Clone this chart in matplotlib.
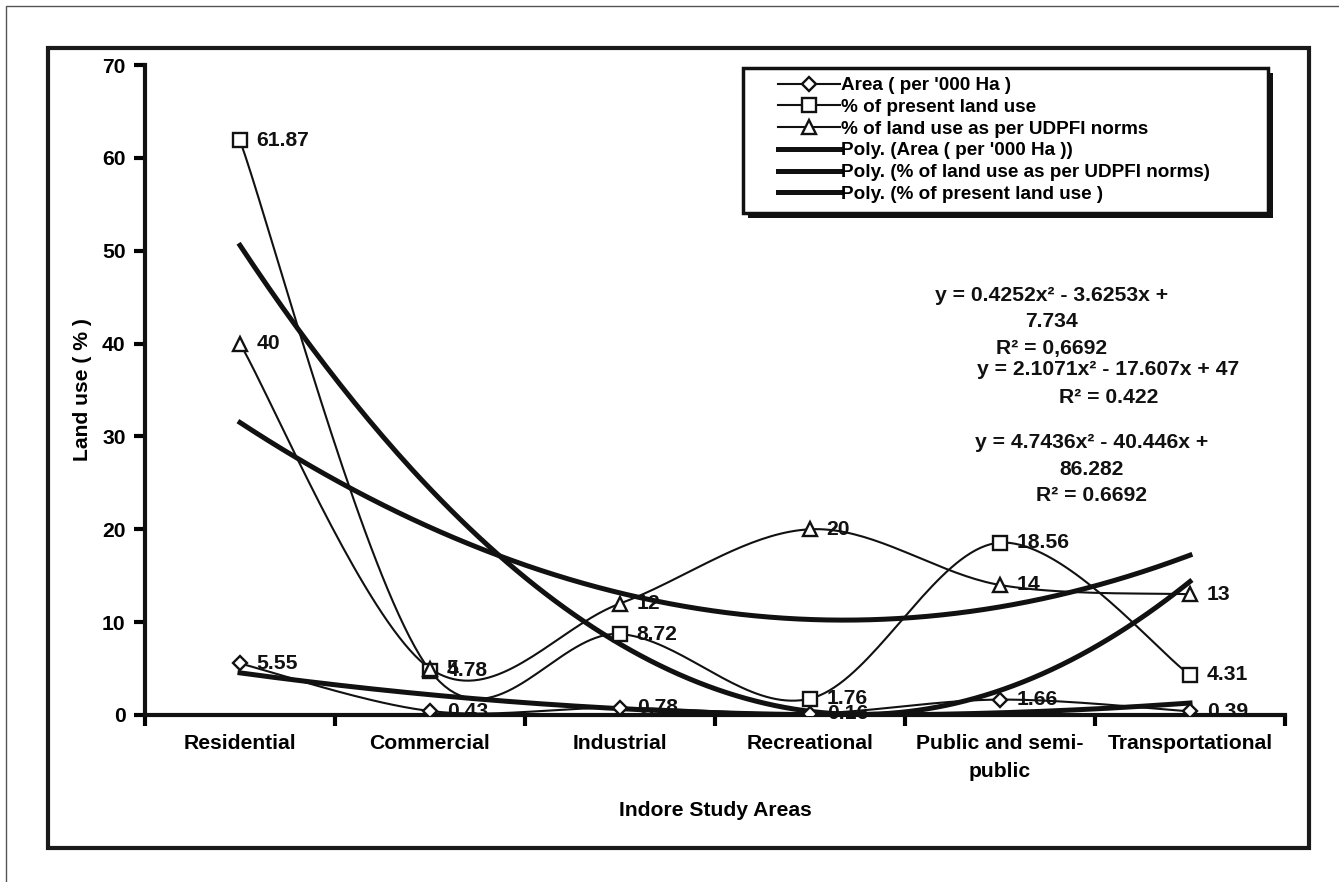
import numpy as np
import matplotlib
matplotlib.use("Agg")
import matplotlib.pyplot as plt
from matplotlib.patches import Rectangle

plt.rcParams['font.family'] = ['Liberation Sans', 'DejaVu Sans']
plt.rcParams['font.weight'] = 'bold'

# data
categories = ["Residential", "Commercial", "Industrial", "Recreational",
              "Public and semi-\npublic", "Transportational"]
area = [5.55, 0.43, 0.78, 0.16, 1.66, 0.39]
present = [61.87, 4.78, 8.72, 1.76, 18.56, 4.31]
udpfi = [40, 5, 12, 20, 14, 13]

eq_area = ["y = 0.4252x² - 3.6253x +", "7.734", "R² = 0,6692"]
eq_udpfi = ["y = 2.1071x² - 17.607x + 47", "R² = 0.422"]
eq_present = ["y = 4.7436x² - 40.446x +", "86.282", "R² = 0.6692"]

W, H = 1339, 882
FS = 15.2


def smooth(xs, ys, n=40):
    # excel-like smoothed line (catmull-rom through bezier segments)
    xs = np.asarray(xs, float)
    ys = np.asarray(ys, float)
    px = np.concatenate([[xs[0]], xs, [xs[-1]]])
    py = np.concatenate([[ys[0]], ys, [ys[-1]]])
    outx, outy = [], []
    t = np.linspace(0, 1, n)
    for i in range(1, len(px) - 2):
        p0 = np.array([px[i], py[i]])
        p3 = np.array([px[i + 1], py[i + 1]])
        c1 = p0 + (np.array([px[i + 1], py[i + 1]]) - np.array([px[i - 1], py[i - 1]])) / 6
        c2 = p3 - (np.array([px[i + 2], py[i + 2]]) - np.array([px[i], py[i]])) / 6
        b = ((1 - t) ** 3)[:, None] * p0 + (3 * (1 - t) ** 2 * t)[:, None] * c1 \
            + (3 * (1 - t) * t ** 2)[:, None] * c2 + (t ** 3)[:, None] * p3
        outx.extend(b[:, 0])
        outy.extend(b[:, 1])
    return outx, outy


fig = plt.figure(figsize=(W / 100, H / 100), dpi=100)

# frames
fig.add_artist(Rectangle((6 / W, -0.1), 1.2, 1 - 6 / H + 0.1, transform=fig.transFigure,
                         fill=False, edgecolor='#555555', linewidth=1))
fig.add_artist(Rectangle((48 / W, 1 - 848 / H), (1309 - 48) / W, (848 - 48) / H,
                         transform=fig.transFigure, fill=False, edgecolor='#1a1a1a', linewidth=3))

ax = fig.add_axes([145 / W, 1 - 715 / H, (1285 - 145) / W, (715 - 65) / H])
x = np.arange(1, len(categories) + 1)

# trend lines
xx = np.linspace(1, 6, 200)
lw_t = 3.6
p_area, = ax.plot(xx, np.polyval(np.polyfit(x, area, 2), xx), color='#111111', lw=lw_t, zorder=2,
                  label="Poly. (Area ( per '000 Ha ))")
p_udpfi, = ax.plot(xx, np.polyval(np.polyfit(x, udpfi, 2), xx), color='#111111', lw=lw_t, zorder=2,
                   label="Poly. (% of land use as per UDPFI norms)")
p_pres, = ax.plot(xx, np.polyval(np.polyfit(x, present, 2), xx), color='#111111', lw=lw_t, zorder=2,
                  label="Poly. (% of present land use )")

# series
series = [(area, 'D', 7.5, "Area ( per '000 Ha )"),
          (present, 's', 10, "% of present land use"),
          (udpfi, '^', 10, "% of land use as per UDPFI norms")]
handles = []
for vals, mk, ms, lab in series:
    sx, sy = smooth(x, vals)
    ax.plot(sx, sy, color='#111111', lw=1.5, zorder=3)
    ax.plot(x, vals, linestyle='none', marker=mk, ms=ms, mfc='white', mec='#111111', mew=1.7, zorder=4)
    h, = ax.plot([], [], color='#111111', lw=1.5, marker=mk, ms=ms, mfc='white', mec='#111111',
                 mew=1.7, label=lab)
    handles.append(h)
    for xi, v in zip(x, vals):
        ax.annotate(f"{v:g}", (xi, v), xytext=(12, 0), textcoords='offset points',
                    ha='left', va='center', fontsize=FS, fontweight='bold', color='#111111', zorder=5)

# equations
def eq(lines, xc, ytop, step=2.85):
    for i, s in enumerate(lines):
        ax.text(xc, ytop - i * step, s, ha='center', va='center', fontsize=FS,
                fontweight='bold', color='#111111', zorder=5)

eq(eq_area, 5.27, 45.2)
eq(eq_udpfi, 5.57, 37.2, step=3.0)
eq(eq_present, 5.48, 29.3)

ax.set_xlim(0.5, 6.5)
ax.set_ylim(0, 70)
ax.set_yticks(np.arange(0, 71, 10))
ax.set_xticks(np.arange(0.5, 6.6, 1))
ax.set_xticklabels([])
ax.set_xticks(x, minor=True)
ax.set_xticklabels(categories, minor=True, fontsize=FS, fontweight='bold', linespacing=1.55)
ax.tick_params(axis='x', which='minor', length=0, pad=14)
ax.tick_params(axis='x', which='major', direction='out', length=8, width=3)
ax.tick_params(axis='y', direction='out', length=8, width=3, labelsize=FS, pad=6)
for lbl in ax.get_yticklabels():
    lbl.set_fontweight('bold')
for s in ['top', 'right']:
    ax.spines[s].set_visible(False)
for s in ['left', 'bottom']:
    ax.spines[s].set_linewidth(3)
    ax.spines[s].set_color('#111111')
ax.set_ylabel("Land use ( % )", fontsize=FS, fontweight='bold')
ax.set_xlabel("Indore Study Areas", fontsize=FS, fontweight='bold')
ax.yaxis.label.set_va('center')
ax.yaxis.set_label_coords((82 - 145) / 1140, 0.5)
ax.xaxis.label.set_va('center')
ax.xaxis.set_label_coords(0.5, (715 - 810) / 650)

# legend box
bx0, by0, bx1, by1 = 743, 68, 1268, 213
fig.add_artist(Rectangle(((bx0 + 5) / W, 1 - (by1 + 5) / H), (bx1 - bx0) / W, (by1 - by0) / H,
                         transform=fig.transFigure, facecolor='#111111', edgecolor='none', zorder=10))
fig.add_artist(Rectangle((bx0 / W, 1 - by1 / H), (bx1 - bx0) / W, (by1 - by0) / H,
                         transform=fig.transFigure, facecolor='white', edgecolor='#111111',
                         linewidth=2.5, zorder=11))
leg = fig.legend(handles=handles + [p_area, p_udpfi, p_pres], loc='upper left',
                 bbox_to_anchor=(778 / W, 1 - 77 / H), frameon=False, borderpad=0,
                 borderaxespad=0, handlelength=3.3, handletextpad=0.05, labelspacing=0.24,
                 prop={'size': 13.6, 'weight': 'bold'})
leg.set_zorder(12)

fig.savefig("out.png", dpi=100)
